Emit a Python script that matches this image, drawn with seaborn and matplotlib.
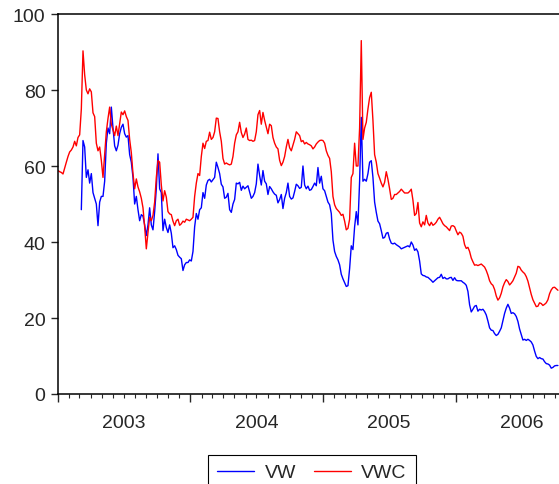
import numpy as np
import pandas as pd
import seaborn as sns
import matplotlib
matplotlib.use('Agg')
import matplotlib.pyplot as plt
import matplotlib.dates as mdates
from matplotlib import ticker

# Periodo da serie (pontos igualmente espacados, ~4.6 dias)
inicio = '2003-01-01'
fim = '2006-10-10'
n_pontos = 301

# VWC (vermelho)
vwc = [58.8, 58.5, 58.3, 57.9, 59.5, 61, 62.5, 63.7, 64.2, 65,
       66.5, 65.3, 67.5, 68.2, 75, 90.3, 84, 80, 79, 80.3,
       79.5, 74, 73, 66, 64, 65, 61.5, 57, 63, 69,
       72.5, 75.5, 71, 69.5, 68, 70.5, 68, 71, 74.2, 73.5,
       74.5, 73, 72, 67, 63.5, 58, 54, 56.6, 54.5, 53.2,
       51.5, 49, 44, 38.2, 42.5, 46.5, 45.6, 47, 50.5, 57,
       61.4, 61, 55, 50.8, 53.5, 51.8, 48, 47.4, 47.2, 45.5,
       44.3, 45.6, 46, 44.4, 44.8, 45.5, 45.2, 46, 45.8, 45.6,
       46, 46.5, 52, 55.5, 58, 57.5, 62.5, 66, 64.6, 66.5,
       66.7, 68.9, 67, 67.5, 69, 72.6, 72.5, 69, 66.5, 62, 60.5,
       60.8, 60.5, 60.3, 60.5, 62.5, 66, 68.2, 69, 71.5, 68.8,
       67.5, 68.4, 70, 67, 66.7, 66.8, 66.5, 66.7, 69, 73.5,
       74.6, 71, 74.1, 72, 70.3, 68.5, 71, 70.6, 67.5, 66,
       65, 64.5, 61.5, 60.1, 61, 62.5, 65, 67, 64.8, 64,
       65.5, 67, 69, 68.5, 68, 66.4, 66.7, 65.8, 66.2, 65.8, 65.6,
       65.3, 64.5, 65, 65.8, 66.3, 66.7, 66.8, 66.7, 66, 64,
       62.8, 62, 58.5, 52, 49.8, 48.8, 48.3, 47.8, 47, 47.3,
       45.5, 43.2, 43.6, 46, 57, 58, 66, 60, 60, 70,
       93, 67, 70, 71.5, 75, 78, 79.4, 72, 63, 61,
       58, 56.8, 55.5, 54.5, 55.7, 58.5, 56.5, 54, 51.2, 51.5, 52.5,
       52.5, 52.9, 53.3, 53.9, 53.4, 52.9, 52.9, 52.9, 53.3, 53.9,
       51, 47, 47.5, 50.4, 45, 44, 45.3, 44.5, 47, 45,
       44.3, 45.2, 44.4, 44.7, 45.2, 46, 46.5, 45.7, 44.8, 44.3,
       44, 43.5, 43, 44.2, 44.3, 44, 42.9, 41.9, 42.6, 42.3,
       41.5, 39.3, 38.3, 38.6, 37.5, 35.8, 34.8, 33.9,
       34, 33.8, 34, 34.2, 33.8, 33.4, 32.5, 31.3, 29.8, 29,
       28.6, 27.5, 25.8, 24.7, 25.3, 26.5, 28.2, 29.3, 30.1, 29.6,
       28.7, 29.2, 29.8, 30.8, 31.8, 33.6, 33.4, 32.6, 32.1, 31.7,
       30.9, 29.7, 28, 26.2, 24.8, 23.9, 23, 23.1, 24, 23.8,
       23.3, 23.6, 24, 24.8, 26.4, 27.4, 28, 28.1, 27.7, 27.3]

# VW (azul) - sem dados nas primeiras semanas
vw = [np.nan] * 14 + [
      48.5, 66.7, 65, 57, 59, 55.5, 58, 53, 51.5, 50,
      44.3, 50.5, 52, 52, 56, 66, 70, 68.5, 75.5, 70,
      65.3, 64, 65.5, 68.5, 70.2, 71, 68.5, 67.6, 68, 63,
      61, 57, 50, 52, 48.5, 45.6,
      47.2, 46.8, 44.5, 41.7, 44.5, 49, 44.5, 43.2, 48, 54,
      63.2, 54, 53, 43, 46, 43.8, 42.5, 44.5, 42.3, 38.5,
      39, 38, 36.5, 36, 35.6, 32.5, 34, 34.6, 34.6, 35.3,
      35, 37.5, 44, 47.5, 46, 48.5, 49, 53, 51.5, 55,
      56.2, 56.5, 55.8, 56.4, 57, 61, 59.6, 58, 55.2, 54.5, 51.5,
      51.8, 52.8, 48.5, 47.8, 50, 51.2, 55.5, 55.3, 55.7, 53.6,
      54.7, 54, 54.4, 54.8, 53.2, 51.5, 52, 53, 55.3, 60.5,
      57.5, 55, 58.8, 56, 55.3, 52.5, 54.6, 54, 53.2, 52.6,
      52.3, 50.3, 51.2, 52.5, 48.8, 51.5, 53, 55.5, 52, 51.3,
      51.6, 53.3, 55.2, 54.8, 54.1, 54.4, 60, 55, 54, 54.7, 53.6,
      53.8, 54.6, 55.5, 54.8, 59.6, 55.5, 57.3, 54, 53.5, 52,
      50.5, 49.8, 47.5, 40.5, 37.5, 36.2, 35.3, 34, 31.5, 30.3,
      29.3, 28.3, 28.5, 33, 39, 38, 44, 48, 44.5, 56,
      72.8, 56, 56.5, 56, 58, 61, 61.4, 57, 50.5, 47.8,
      45.5, 44.8, 43, 41, 41.2, 42.3, 42.5, 40.8, 39.7, 39.5, 39.7,
      39.3, 39, 38.7, 38.2, 38.4, 38.6, 38.8, 39, 38.7, 40,
      39.2, 37.8, 38.2, 37.4, 35, 31.6, 31.2, 31.1, 30.8, 30.7,
      30.3, 29.9, 29.4, 29.8, 30.2, 30.6, 30.7, 31.5, 30.4, 30.7,
      30.3, 30.3, 30.6, 30.7, 29.9, 30.6, 29.9, 29.8, 29.8, 29.8,
      29.4, 29.1, 28.6, 27, 23.5, 21.6, 22.3, 23.1,
      23.3, 21.8, 22.3, 22.1, 22.3, 21.7, 20.8, 19.2, 17.4, 16.8,
      16.7, 15.9, 15.4, 15.7, 16.5, 17.4, 19.3, 21.2, 22.6, 23.6,
      22.6, 21.2, 21.4, 21.1, 20.4, 19.1, 17.1, 15.6, 14.2, 14.4,
      14.1, 14.4, 14.1, 13.7, 12.9, 11.3, 9.9, 9.3, 9.6, 9.3,
      9.2, 8.5, 8, 7.9, 7.6, 6.8, 7, 7.4, 7.5, 7.5]

series = ['VW', 'VWC']
cores = {'VW': 'blue', 'VWC': 'red'}
yticks = [0, 20, 40, 60, 80, 100]

assert len(vw) == n_pontos and len(vwc) == n_pontos

# Montando o dataframe no formato longo
datas = pd.date_range(inicio, fim, periods=n_pontos)
dados = pd.DataFrame({'data': datas, 'VW': vw, 'VWC': vwc})
dados = pd.melt(dados, id_vars='data', var_name='serie', value_name='valor').dropna()

sns.set_style('white')
plt.rcParams['font.family'] = ['Liberation Sans', 'DejaVu Sans']

fig = plt.figure(figsize=(5.59, 4.85), dpi=100)
ax = fig.add_axes([58 / 559, 90 / 485, 501 / 559, 380 / 485])

sns.lineplot(data=dados, x='data', y='valor', hue='serie', hue_order=series,
             palette=cores, estimator=None, linewidth=1.0, legend=False, ax=ax)

# Eixos
ax.set_xlim(pd.Timestamp(inicio), pd.Timestamp('2006-10-13'))
ax.set_ylim(0, 100)
ax.set_yticks(yticks)
ax.set_xlabel('')
ax.set_ylabel('')

ax.xaxis.set_major_locator(mdates.YearLocator())
ax.xaxis.set_major_formatter(ticker.NullFormatter())
ax.xaxis.set_minor_locator(mdates.MonthLocator())
ax.xaxis.set_minor_formatter(ticker.FuncFormatter(
    lambda x, pos: str(mdates.num2date(x).year) if mdates.num2date(x).month == 7 else ''))

ax.tick_params(axis='y', which='major', direction='out', length=5, width=1,
               labelsize=14, pad=4, left=True)
ax.tick_params(axis='x', which='major', direction='out', length=6, width=1, bottom=True)
ax.tick_params(axis='x', which='minor', direction='out', length=3.2, width=0.8,
               labelsize=14, pad=11, bottom=True)

for lado in ['left', 'top', 'bottom']:
    ax.spines[lado].set_color('black')
    ax.spines[lado].set_linewidth(1.1)
ax.spines['right'].set_visible(False)

# Legenda embaixo
handles = [plt.Line2D([], [], color=cores[s], linewidth=1.0) for s in series]
fig.legend(handles, series, loc='upper center', bbox_to_anchor=(312 / 559, 1 - 456 / 485),
           ncol=2, fontsize=14, frameon=True, fancybox=False, framealpha=1,
           edgecolor='black', handlelength=1.9, handletextpad=0.55,
           columnspacing=0.9, borderpad=0.45, borderaxespad=0)
fig.legends[0].get_frame().set_linewidth(0.8)

fig.savefig('out.png', dpi=100)
